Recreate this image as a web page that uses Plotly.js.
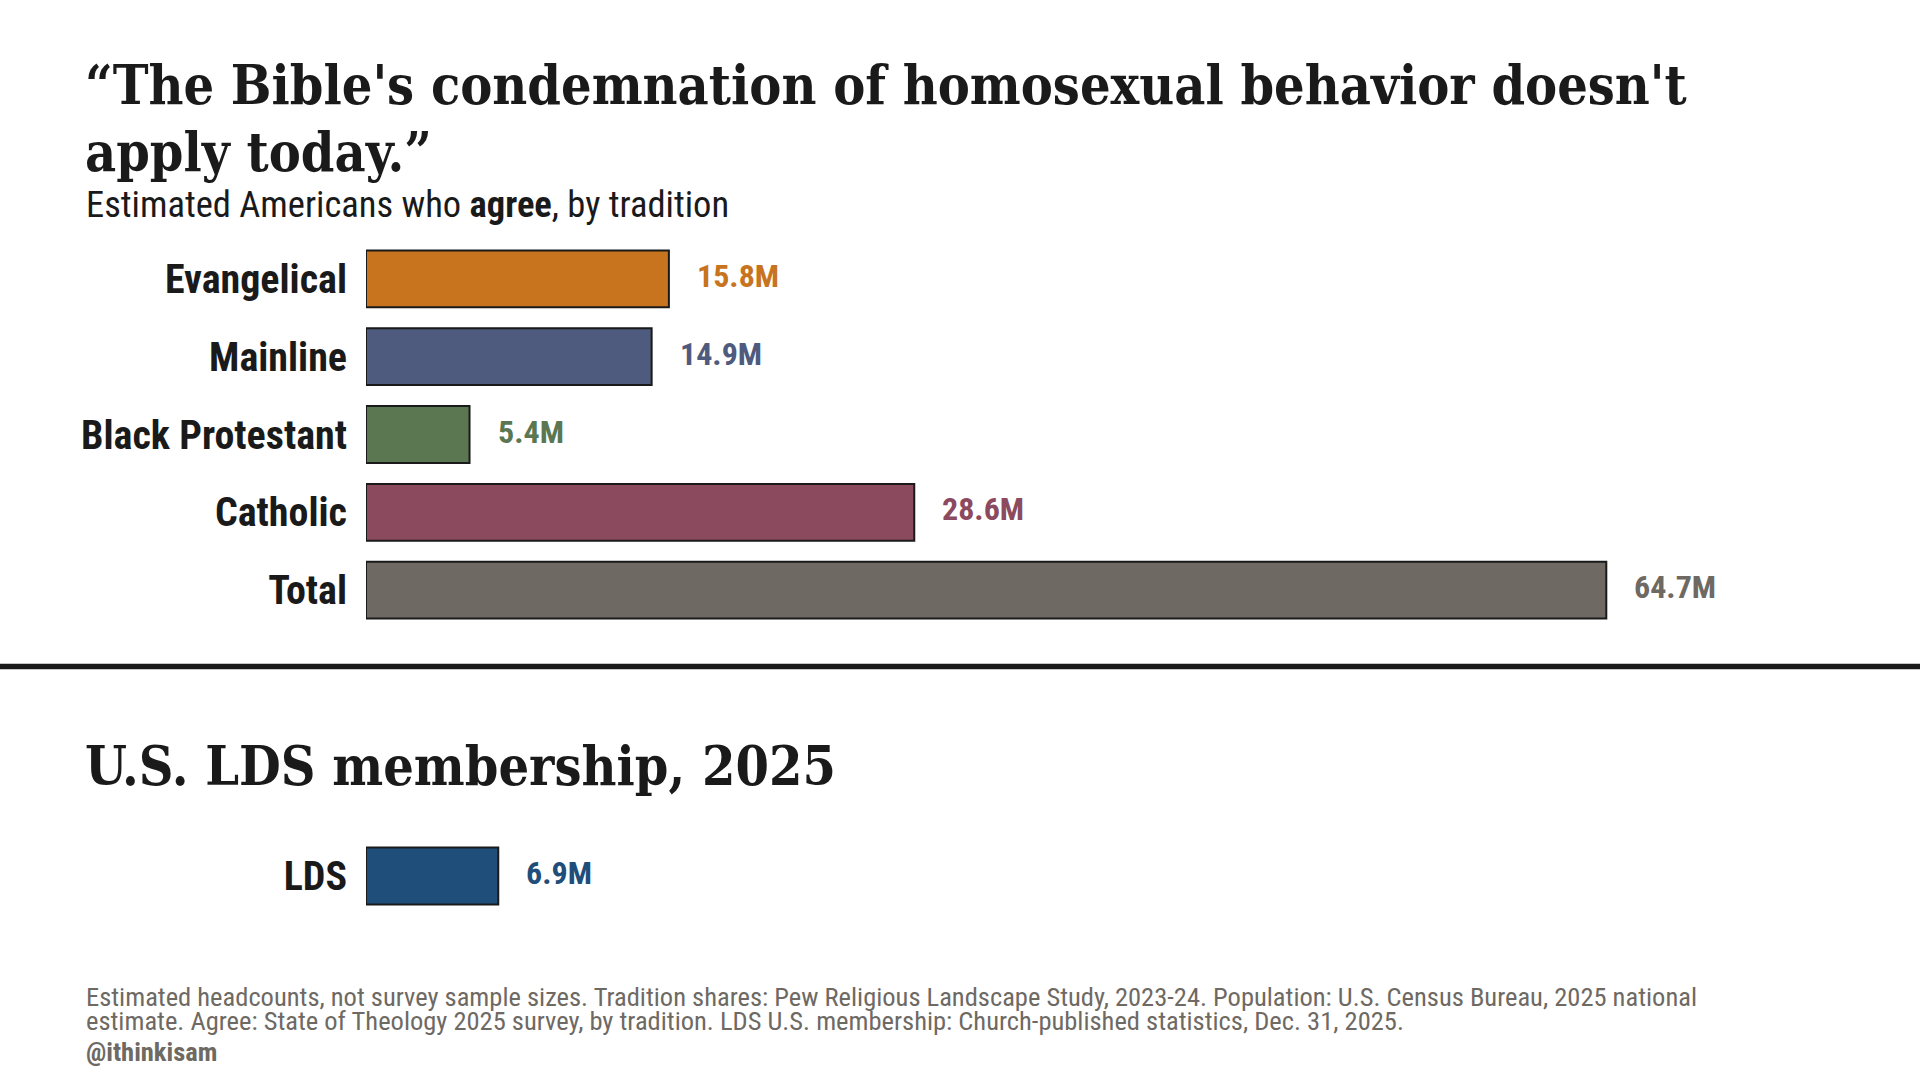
<!DOCTYPE html>
<html>
<head>
<meta charset="utf-8">
<script src="https://cdn.plot.ly/plotly-3.0.1.min.js"></script>
<style>
  html, body { margin: 0; padding: 0; background: #ffffff; }
  #chart { width: 1920px; height: 1080px; }
</style>
</head>
<body>
<div id="chart"></div>
<script>
/* ── data ───────────────────────────────────────────── */
const traditions  = ["Evangelical", "Mainline", "Black Protestant", "Catholic", "Total"];
const agreeMillions = [15.8, 14.9, 5.4, 28.6, 64.7];
const agreeColors = ["#c8731d", "#4f5b7e", "#5b7752", "#8b4a5e", "#6e6963"];

const ldsLabels   = ["LDS"];
const ldsMillions = [6.9];
const ldsColors   = ["#1f4e7a"];

/* ── look ───────────────────────────────────────────── */
const slab   = "Roboto Slab, DejaVu Serif Condensed, DejaVu Serif, serif";
const narrow = "Roboto Condensed, Liberation Sans Narrow, Arial Narrow, sans-serif";
const ink    = "#1a1a1a";
const grey   = "#6e6963";

// canvas pixels -> paper coords (margins are zero)
const px = v => v / 1920;
const py = v => 1 - v / 1080;

const fmt = v => v.toFixed(1) + "M";

const topTrace = {
    type: "bar",
    orientation: "h",
    y: traditions,
    x: agreeMillions,
    marker: { color: agreeColors, line: { color: ink, width: 2 } },
    width: 0.73,
    hoverinfo: "skip",
    xaxis: "x",
    yaxis: "y"
};

const ldsTrace = {
    type: "bar",
    orientation: "h",
    y: ldsLabels,
    x: ldsMillions,
    marker: { color: ldsColors, line: { color: ink, width: 2 } },
    width: 0.73,
    hoverinfo: "skip",
    xaxis: "x",
    yaxis: "y2"
};

// value labels next to each bar
const valueNotes = [];
traditions.forEach((t, i) => {
    valueNotes.push({
        x: agreeMillions[i], y: t, xref: "x", yref: "y",
        text: "<b>" + fmt(agreeMillions[i]) + "</b>",
        showarrow: false, xanchor: "left", xshift: 26, yshift: 3,
        font: { family: narrow, size: 32, color: agreeColors[i] }
    });
});
ldsLabels.forEach((t, i) => {
    valueNotes.push({
        x: ldsMillions[i], y: t, xref: "x", yref: "y2",
        text: "<b>" + fmt(ldsMillions[i]) + "</b>",
        showarrow: false, xanchor: "left", xshift: 26, yshift: 3,
        font: { family: narrow, size: 32, color: ldsColors[i] }
    });
});

function note(text, x, y, size, family, color) {
    return {
        text: text, xref: "paper", yref: "paper", x: px(x), y: py(y),
        xanchor: "left", yanchor: "middle", align: "left", showarrow: false,
        font: { family: family, size: size, color: color }
    };
}

const textNotes = [
    note("<b>“The Bible's condemnation of homosexual behavior doesn't</b>", 83, 86, 53.5, slab, ink),
    note("<b>apply today.”</b>", 83, 153, 53.5, slab, ink),
    note("Estimated Americans who <b>agree</b>, by tradition", 84, 204, 36.5, narrow, ink),
    note("<b>U.S. LDS membership, 2025</b>", 83, 766, 53.5, slab, ink),
    note("Estimated headcounts, not survey sample sizes. Tradition shares: Pew Religious Landscape Study, 2023-24. Population: U.S. Census Bureau, 2025 national",
         84, 996, 26.5, narrow, grey),
    note("estimate. Agree: State of Theology 2025 survey, by tradition. LDS U.S. membership: Church-published statistics, Dec. 31, 2025.",
         84, 1020, 26.5, narrow, grey),
    note("<b>@ithinkisam</b>", 84, 1051, 26.5, narrow, grey)
];

const catAxis = {
    type: "category",
    autorange: false,
    showgrid: false, zeroline: false, showline: false,
    ticks: "",
    ticklabelstandoff: 18,
    tickfont: { family: narrow, size: 40, color: ink },
    fixedrange: true
};

const layout = {
    width: 1920,
    height: 1080,
    margin: { l: 0, r: 0, t: 0, b: 0 },
    paper_bgcolor: "#ffffff",
    plot_bgcolor: "#ffffff",
    showlegend: false,
    font: { family: narrow, color: ink },
    xaxis: {
        domain: [px(366), px(366 + 80 * 19.17)],
        range: [0, 80],
        visible: false,
        fixedrange: true
    },
    yaxis: Object.assign({}, catAxis, {
        domain: [py(629), py(240)],
        range: [traditions.length - 0.5, -0.5],
        ticktext: traditions.map(t => "<b>" + t + "</b>"),
        tickvals: traditions
    }),
    yaxis2: Object.assign({}, catAxis, {
        domain: [py(915), py(837)],
        range: [0.5, -0.5],
        anchor: "x",
        ticktext: ldsLabels.map(t => "<b>" + t + "</b>"),
        tickvals: ldsLabels
    }),
    shapes: [{
        type: "line", xref: "paper", yref: "paper",
        x0: 0, x1: 1, y0: py(666.5), y1: py(666.5),
        line: { color: ink, width: 5.5 }
    }],
    annotations: textNotes.concat(valueNotes)
};

Plotly.newPlot("chart", [topTrace, ldsTrace], layout, { displayModeBar: false, staticPlot: true });
</script>
</body>
</html>
